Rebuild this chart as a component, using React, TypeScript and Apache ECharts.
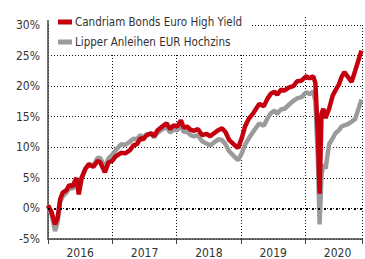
import React, { useEffect, useRef } from "react";
import * as echarts from "echarts";

const dates = [
  "2016-01-01","2016-01-20","2016-02-10","2016-02-25","2016-03-10","2016-03-25","2016-04-15","2016-05-01","2016-05-20","2016-06-10",
  "2016-06-24","2016-07-10","2016-08-01","2016-08-20","2016-09-15","2016-10-10","2016-10-25","2016-11-10","2016-11-20","2016-12-10",
  "2017-01-01","2017-01-20","2017-02-20","2017-03-15","2017-04-10","2017-05-01","2017-05-20","2017-06-10","2017-06-25","2017-07-15",
  "2017-08-10","2017-08-25","2017-09-15","2017-10-15","2017-11-05","2017-11-25","2017-12-15","2018-01-05","2018-01-25","2018-02-10",
  "2018-03-01","2018-03-20","2018-04-10","2018-05-01","2018-05-25","2018-06-20","2018-07-10","2018-08-01","2018-08-25","2018-09-15",
  "2018-10-05","2018-10-25","2018-11-20","2018-12-15","2019-01-05","2019-01-25","2019-02-15","2019-03-10","2019-04-01","2019-04-15",
  "2019-05-10","2019-06-01","2019-06-20","2019-07-10","2019-07-25","2019-08-15","2019-09-05","2019-10-01","2019-10-25","2019-11-15",
  "2019-12-10","2020-01-05","2020-01-25","2020-02-15","2020-02-27","2020-03-12","2020-03-22","2020-04-02","2020-04-12","2020-04-25",
  "2020-05-15","2020-06-05","2020-06-20","2020-07-10","2020-07-25","2020-08-10","2020-08-30","2020-09-20","2020-10-10","2020-11-15",
];

const candriam = [
  0.5, -0.5, -2.6, -1.5, 1.5, 2.6, 3.0, 3.8, 3.6, 5.0,
  2.3, 5.0, 6.5, 7.2, 6.8, 7.8, 7.5, 6.5, 5.9, 7.5,
  7.8, 8.5, 9.1, 9.0, 9.5, 10.3, 10.5, 11.5, 11.3, 12.0,
  12.3, 11.8, 12.8, 13.5, 13.9, 13.0, 13.6, 13.4, 14.4, 13.2,
  13.4, 12.9, 12.7, 13.0, 12.0, 12.2, 11.8, 12.3, 12.8, 13.1,
  12.5, 11.2, 10.5, 9.9, 11.5, 13.5, 14.7, 15.5, 16.5, 17.1,
  16.7, 18.0, 18.8, 19.1, 18.6, 19.4, 19.3, 19.8, 20.0, 20.8,
  20.9, 21.6, 21.3, 21.6, 20.5, 12.0, 2.4, 15.5, 16.3, 14.8,
  16.3, 18.5, 19.3, 20.3, 21.5, 22.3, 21.5, 20.7, 22.5, 25.8,
];

const lipper = [
  0.3, -0.8, -3.7, -2.2, 1.0, 2.0, 2.6, 3.4, 3.2, 4.6,
  2.8, 4.8, 6.4, 7.3, 7.0, 8.3, 8.2, 7.2, 6.8, 8.2,
  8.8, 9.5, 10.5, 10.4, 10.9, 11.4, 11.3, 12.0, 11.6, 12.1,
  12.2, 11.6, 12.4, 13.0, 13.3, 12.4, 12.9, 12.8, 13.6, 12.5,
  12.6, 12.0, 11.8, 12.0, 11.0, 10.6, 10.3, 10.8, 11.3, 11.2,
  10.5, 9.4, 8.6, 7.9, 9.0, 10.5, 11.5, 12.5, 13.4, 13.9,
  13.5, 14.8, 15.6, 16.0, 15.5, 16.2, 16.3, 17.0, 17.6, 18.0,
  18.2, 19.0, 18.7, 19.1, 17.5, 8.0, -2.6, 5.5, 7.2, 6.5,
  10.5, 11.5, 12.3, 12.8, 13.4, 13.6, 13.8, 14.2, 14.6, 17.8,
];

const seriesNames = ["Candriam Bonds Euro High Yield", "Lipper Anleihen EUR Hochzins"];
const yearBoundaries = [2016, 2017, 2018, 2019, 2020];
const xMin = 2016;
const xMax = 2020.88;
const yMin = -5;
const yMax = 30;

function toYear(d: string): number {
  const [y, m, day] = d.split("-").map(Number);
  const start = Date.UTC(y, 0, 1);
  const end = Date.UTC(y + 1, 0, 1);
  return y + (Date.UTC(y, m - 1, day) - start) / (end - start);
}

const FONT = "'Liberation Sans Narrow', 'DejaVu Sans Condensed', sans-serif";
const RED = "#c4000f";
const GRAY = "#9b9b9b";
const AXIS = "#444";
const GRID = "#111";

export default function App() {
  const ref = useRef<HTMLDivElement>(null);
  useEffect(() => {
    document.body.style.margin = "0";
    if (!ref.current) return;
    const chart = echarts.init(ref.current, undefined, { renderer: "svg" });
    const xs = dates.map(toYear);
    const redData = xs.map((x, i) => [x, candriam[i]]);
    const grayData = xs.map((x, i) => [x, lipper[i]]);
    chart.setOption({
      animation: false,
      textStyle: { fontFamily: FONT },
      grid: { left: 48, right: 0, top: 25, bottom: 16 },
      legend: {
        data: seriesNames,
        orient: "vertical",
        left: 49,
        top: 10,
        padding: [5, 8, 5, 9],
        itemGap: 6,
        itemWidth: 14,
        itemHeight: 5,
        icon: "rect",
        backgroundColor: "#fff",
        textStyle: { fontFamily: FONT, fontSize: 11.5, color: "#333", lineHeight: 14, padding: [0, 0, 0, -2] },
      },
      xAxis: [
        {
          type: "value",
          min: xMin,
          max: xMax,
          interval: 1,
          axisLine: { show: true, onZero: false, lineStyle: { color: AXIS, width: 1.5 } },
          axisTick: { show: true, length: 5, lineStyle: { color: AXIS, width: 1 } },
          axisLabel: { show: false },
          splitLine: { show: true, lineStyle: { color: GRID, type: [1, 2], width: 1 } },
        },
        {
          type: "value",
          position: "bottom",
          min: xMin,
          max: xMax,
          interval: 0.5,
          axisLine: { show: false, onZero: false },
          axisTick: { show: false },
          splitLine: { show: false },
          axisLabel: {
            show: true,
            margin: 8,
            fontFamily: FONT,
            fontSize: 12,
            color: "#333",
            formatter: (v: number) => (Math.abs((v % 1) - 0.5) < 1e-6 ? String(Math.floor(v)) : ""),
          },
        },
      ],
      yAxis: {
        type: "value",
        min: yMin,
        max: yMax,
        interval: 5,
        axisLine: { show: true, onZero: false, lineStyle: { color: AXIS, width: 1.5 } },
        axisTick: { show: false },
        axisLabel: { formatter: "{value}%", fontFamily: FONT, fontSize: 12, color: "#333", margin: 8 },
        splitLine: { show: true, lineStyle: { color: GRID, type: [1, 2], width: 1 } },
      },
      series: [
        {
          type: "line",
          name: "zero",
          data: [],
          z: 1,
          markLine: {
            silent: true,
            symbol: "none",
            label: { show: false },
            lineStyle: { color: "#000", type: [2, 4], width: 2, cap: "butt" },
            data: [{ yAxis: 0 }],
          },
        },
        {
          type: "line",
          name: seriesNames[1],
          data: grayData,
          showSymbol: false,
          symbol: "none",
          z: 2,
          lineStyle: { color: GRAY, width: 4.5 },
          itemStyle: { color: GRAY },
        },
        {
          type: "line",
          name: seriesNames[0],
          data: redData,
          showSymbol: false,
          symbol: "none",
          z: 3,
          lineStyle: { color: RED, width: 4.5 },
          itemStyle: { color: RED },
        },
      ],
    });
    const topY = chart.convertToPixel({ yAxisIndex: 0 }, yMax) as number;
    const graphics: any[] = yearBoundaries.map((yr, i) => {
      const x = chart.convertToPixel({ xAxisIndex: 0 }, yr) as number;
      const ext = i === 0 ? 5 : 8;
      return {
        type: "line",
        z: 0,
        shape: { x1: x, y1: topY - ext, x2: x, y2: topY },
        style: i === 0 ? { stroke: AXIS, lineWidth: 1.5 } : { stroke: GRID, lineWidth: 1, lineDash: [1, 2] },
      };
    });
    chart.setOption({ graphic: graphics });
    return () => chart.dispose();
  }, []);
  return <div ref={ref} style={{ width: 365, height: 259 }} />;
}
